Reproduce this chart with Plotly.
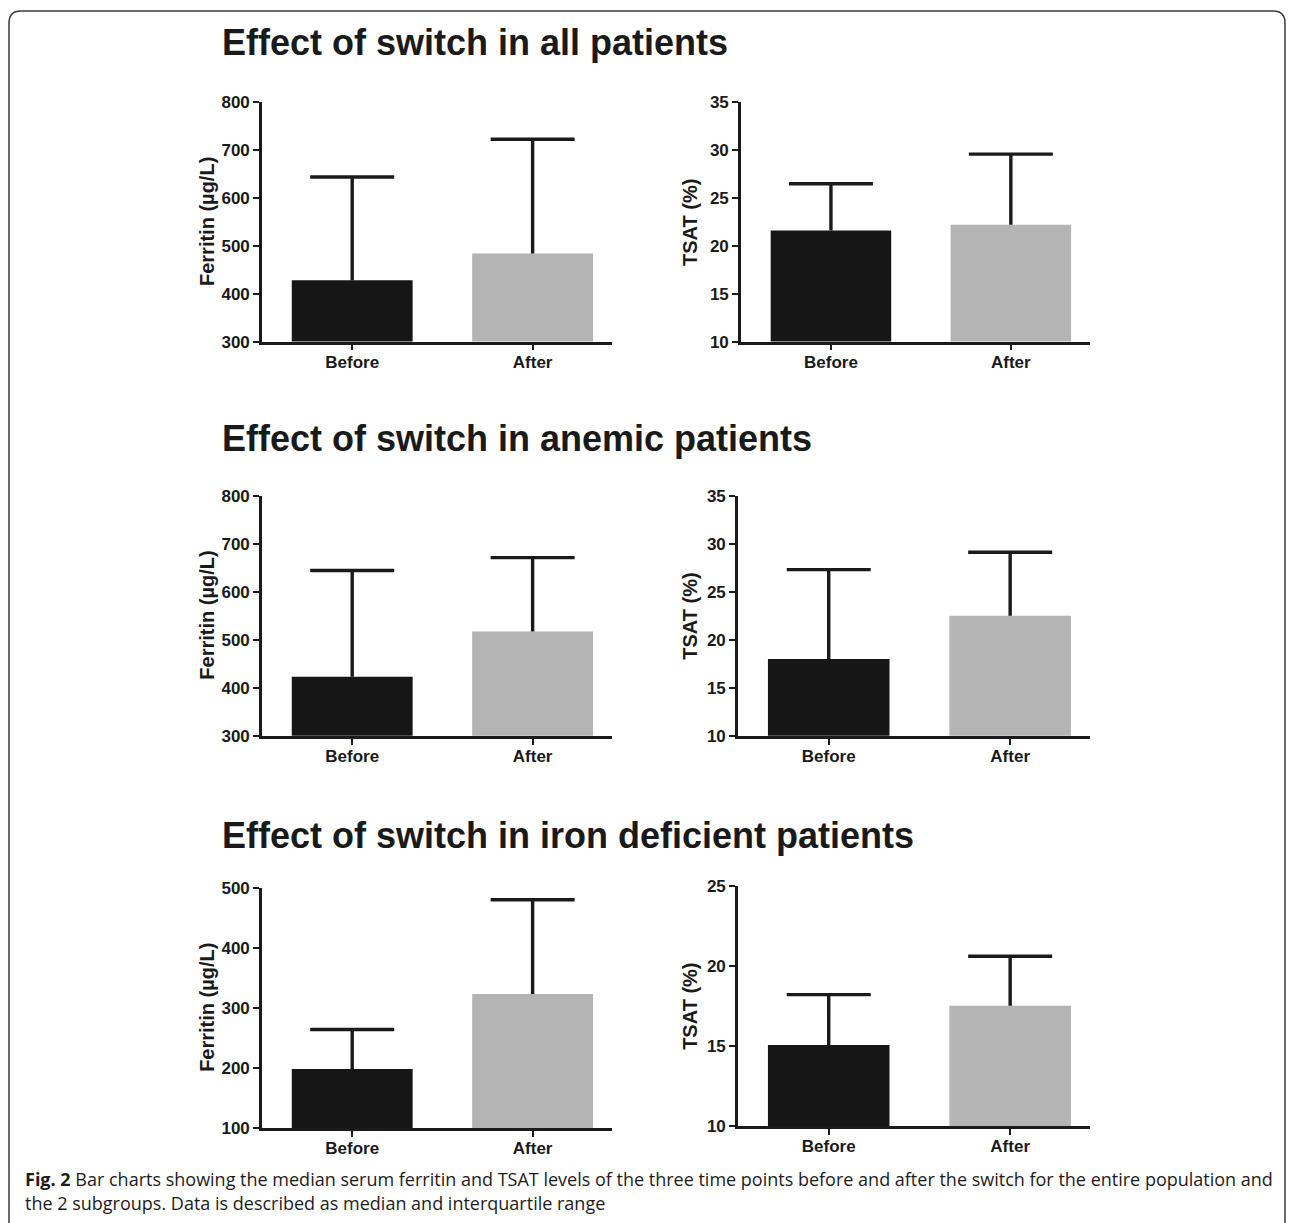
import plotly.graph_objects as go

W, H = 1293, 1223

categories = ["Before", "After"]

# medians and upper quartile (error bar top)
ferr_all = [428, 484]
ferr_all_q3 = [644, 723]
tsat_all = [21.6, 22.2]
tsat_all_q3 = [26.5, 29.6]

ferr_anemic = [423, 517]
ferr_anemic_q3 = [644, 671]
tsat_anemic = [18.0, 22.5]
tsat_anemic_q3 = [27.3, 29.1]

ferr_iron = [198, 323]
ferr_iron_q3 = [264, 480]
tsat_iron = [15.05, 17.5]
tsat_iron_q3 = [18.2, 20.6]

titles = ["Effect of switch in all patients",
          "Effect of switch in anemic patients",
          "Effect of switch in iron deficient patients"]
ylabels = ["Ferritin (µg/L)", "TSAT (%)"]

bar_colors = ["#161616", "#b4b4b4"]
ink = "#1a1a1a"
FONT = "Liberation Sans, Arial, sans-serif"

# vertical placement compensation (observed in the photographed page)
def yp(y):
    """target pixel row -> paper fraction"""
    return 1 - ((y - 8.6) / 0.984) / H

def xp(x):
    return x / W

panels = [
    # values, q3, yrange, dtick, x px range, y px range (top,bottom), ylabel
    (ferr_all, ferr_all_q3, [300, 800], 100, (262, 612), (102, 341), 0),
    (tsat_all, tsat_all_q3, [10, 35], 5, (741, 1090), (102, 341), 1),
    (ferr_anemic, ferr_anemic_q3, [300, 800], 100, (262, 612), (495, 735), 0),
    (tsat_anemic, tsat_anemic_q3, [10, 35], 5, (738, 1090), (495, 735), 1),
    (ferr_iron, ferr_iron_q3, [100, 500], 100, (262, 612), (887, 1127), 0),
    (tsat_iron, tsat_iron_q3, [10, 25], 5, (738, 1090), (885, 1125), 1),
]

fig = go.Figure()
layout_axes = {}
annotations = []

for i, (vals, q3, yr, dt, xpx, ypx, lab) in enumerate(panels, start=1):
    xa = "x" if i == 1 else f"x{i}"
    ya = "y" if i == 1 else f"y{i}"
    fig.add_trace(go.Bar(
        x=categories, y=vals, xaxis=xa, yaxis=ya,
        marker=dict(color=bar_colors, line=dict(width=0)),
        width=0.67, showlegend=False, hoverinfo="skip",
    ))
    sx, sy = [], []
    for c, v, q in zip(categories, vals, q3):
        sx += [c, c, None]
        sy += [v, q, None]
    fig.add_trace(go.Scatter(
        x=sx, y=sy, xaxis=xa, yaxis=ya, mode="lines",
        line=dict(color=ink, width=3.4), showlegend=False, hoverinfo="skip",
    ))
    fig.add_trace(go.Scatter(
        x=categories, y=q3, xaxis=xa, yaxis=ya, mode="markers",
        marker=dict(symbol="line-ew", size=60, color=ink,
                    line=dict(color=ink, width=3.4)),
        showlegend=False, hoverinfo="skip", cliponaxis=False,
    ))
    xkey = "xaxis" if i == 1 else f"xaxis{i}"
    ykey = "yaxis" if i == 1 else f"yaxis{i}"
    layout_axes[xkey] = dict(
        domain=[xp(xpx[0]), xp(xpx[1])], anchor=ya,
        range=[-0.5, 1.44], type="category",
        showline=True, linewidth=2.6, linecolor=ink, mirror=False,
        ticks="outside", ticklen=6, tickwidth=2, tickcolor=ink,
        ticklabelstandoff=-3,
        showgrid=False, zeroline=False, fixedrange=True,
        tickfont=dict(family=FONT, size=17, color=ink, weight="bold"),
    )
    layout_axes[ykey] = dict(
        domain=[yp(ypx[1]), yp(ypx[0])], anchor=xa,
        range=yr, dtick=dt, tick0=yr[0],
        showline=True, linewidth=2.6, linecolor=ink,
        ticks="outside", ticklen=6, tickwidth=2, tickcolor=ink,
        ticklabelstandoff=0,
        showgrid=False, zeroline=False, fixedrange=True,
        tickfont=dict(family=FONT, size=17, color=ink, weight="bold"),
    )
    lx = 207 if lab == 0 else 690
    annotations.append(dict(
        text=f"<b>{ylabels[lab]}</b>", xref="paper", yref="paper",
        x=xp(lx), y=yp((ypx[0] + ypx[1]) / 2),
        xanchor="center", yanchor="middle", textangle=-90, showarrow=False,
        font=dict(family=FONT, size=20, color=ink),
    ))

for t, ty in zip(titles, [42, 438, 835]):
    annotations.append(dict(
        text=f"<b>{t}</b>", xref="paper", yref="paper",
        x=xp(220), y=yp(ty), xanchor="left", yanchor="middle",
        showarrow=False, font=dict(family=FONT, size=36, color=ink),
    ))

cap_font = "Open Sans, sans-serif"
annotations.append(dict(
    text="<b>Fig. 2</b> Bar charts showing the median serum ferritin and TSAT levels of the three time points before and after the switch for the entire population and",
    xref="paper", yref="paper", x=xp(23), y=yp(1178), xanchor="left", yanchor="middle",
    showarrow=False, font=dict(family=cap_font, size=18, color="#1e1b1c"),
))
annotations.append(dict(
    text="the 2 subgroups. Data is described as median and interquartile range",
    xref="paper", yref="paper", x=xp(23), y=yp(1202), xanchor="left", yanchor="middle",
    showarrow=False, font=dict(family=cap_font, size=18, color="#1e1b1c"),
))

# rounded frame
L, T, R, B, r = 9, 10.5, 1285, 1240, 12
path = (f"M {xp(L + r)} {yp(T)} L {xp(R - r)} {yp(T)} Q {xp(R)} {yp(T)} {xp(R)} {yp(T + r)} "
        f"L {xp(R)} {yp(B - r)} Q {xp(R)} {yp(B)} {xp(R - r)} {yp(B)} "
        f"L {xp(L + r)} {yp(B)} Q {xp(L)} {yp(B)} {xp(L)} {yp(B - r)} "
        f"L {xp(L)} {yp(T + r)} Q {xp(L)} {yp(T)} {xp(L + r)} {yp(T)} Z")

fig.update_layout(
    width=W, height=H, autosize=False,
    margin=dict(l=0, r=0, t=0, b=0),
    paper_bgcolor="white", plot_bgcolor="white",
    annotations=annotations,
    shapes=[dict(type="path", path=path, xref="paper", yref="paper",
                 line=dict(color="#3a3a3a", width=1.5))],
    **layout_axes,
)

post = (
    "var d=document.documentElement,b=document.body;"
    "d.style.margin='0';d.style.padding='0';d.style.overflow='hidden';"
    "b.style.margin='0';b.style.padding='0';b.style.overflow='hidden';"
    "var g=document.querySelector('.plotly-graph-div');"
    "if(g){g.style.position='fixed';g.style.left='0px';g.style.top='0px';}"
)

fig.write_html(
    "out.html",
    config={"responsive": False, "displayModeBar": False},
    post_script=post,
)
